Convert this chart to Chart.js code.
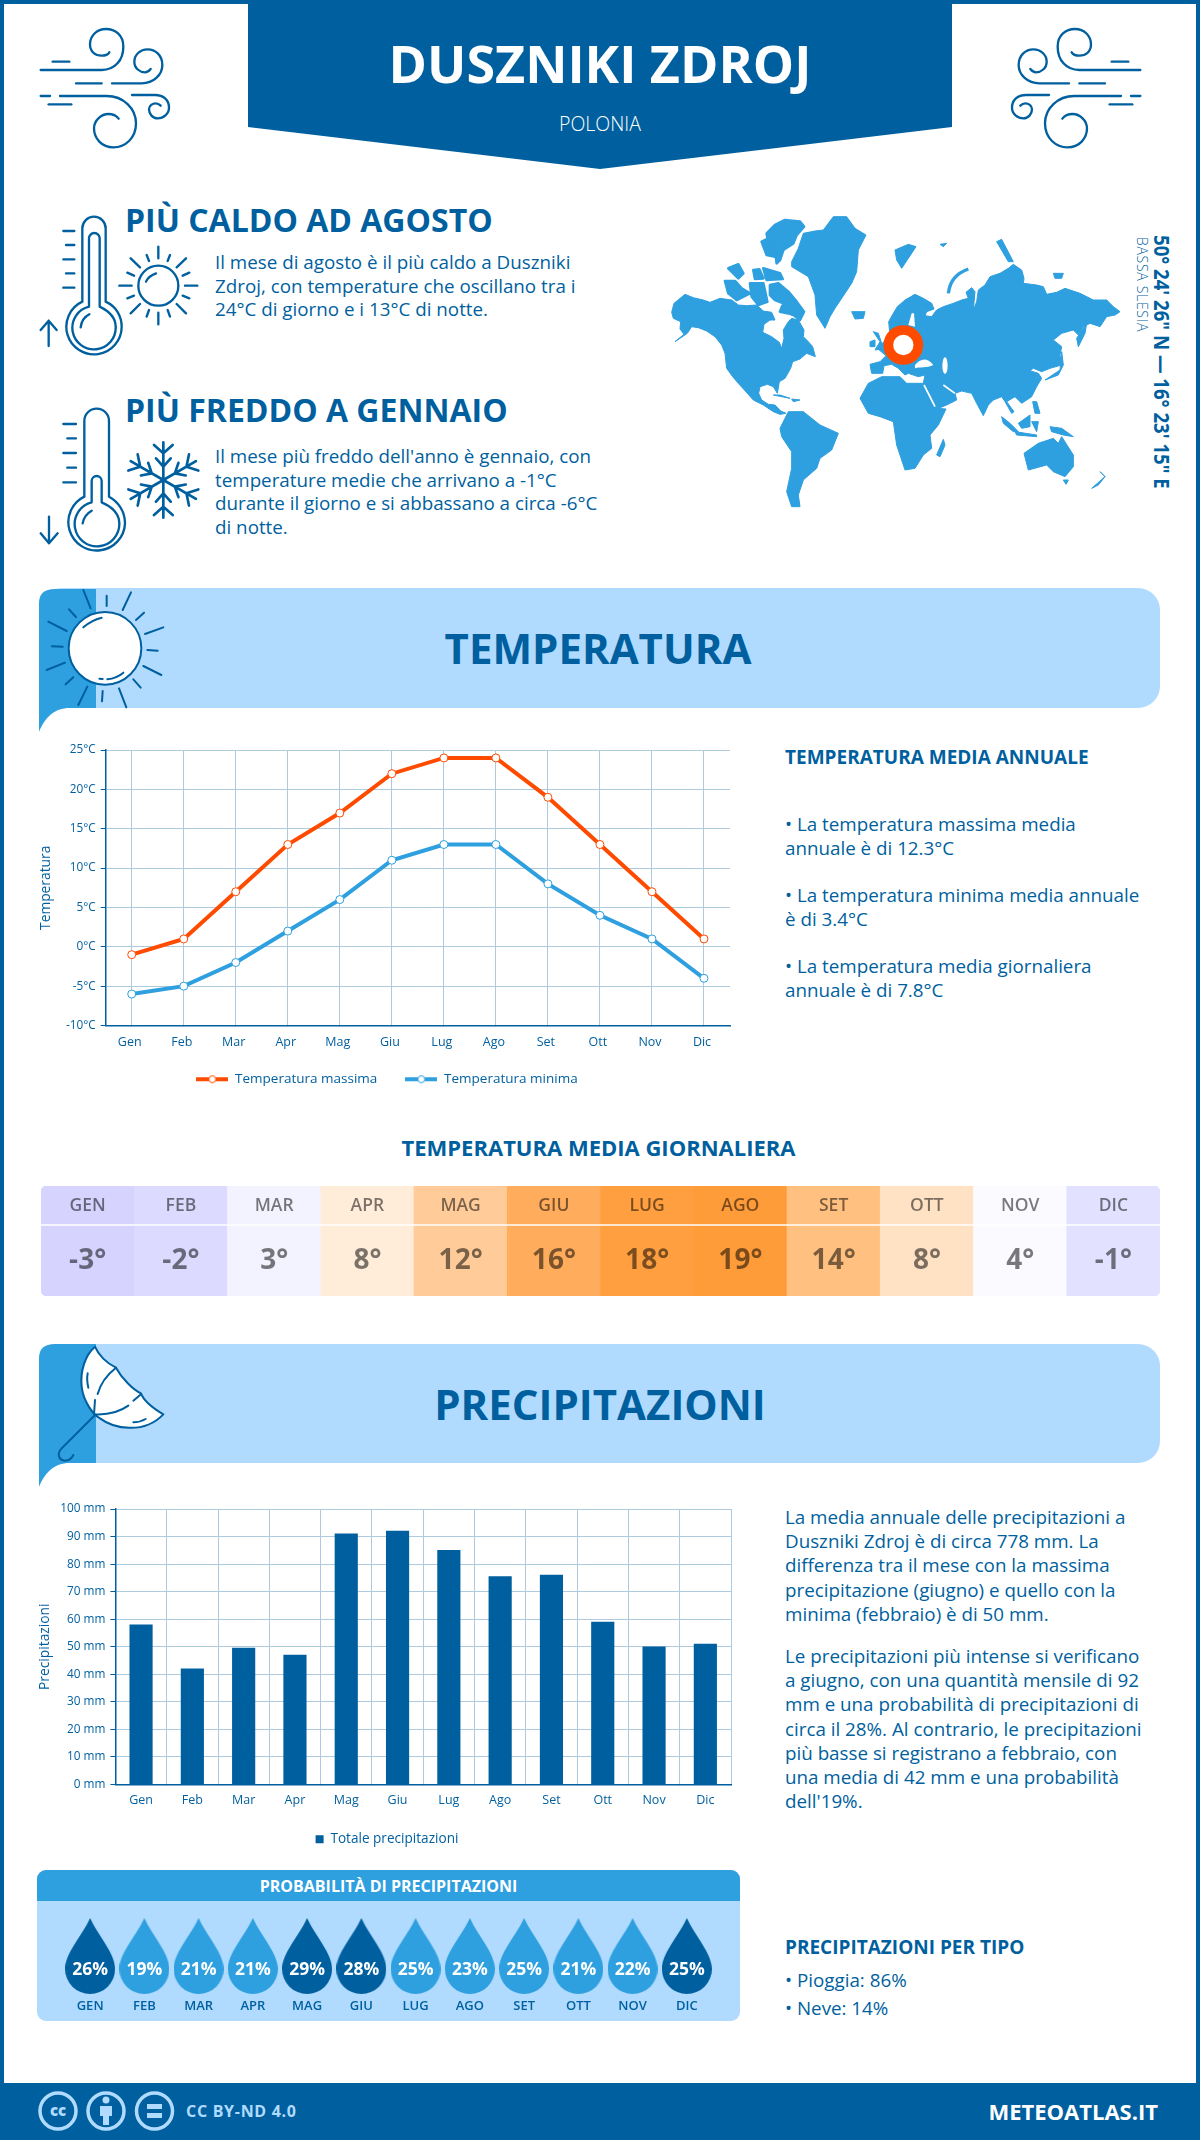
<!DOCTYPE html>
<html lang="it">
<head>
<meta charset="UTF-8">
<title>Dusznik Zdroj</title>
<script src="https://cdn.jsdelivr.net/npm/chart.js"></script>
<style>
  html, body { margin: 0; padding: 0; background: #fff; }
  #page { position: relative; width: 1200px; height: 2140px; overflow: hidden; font-family: "Open Sans", sans-serif; color: #005f9e; }
  #frame { position: absolute; left: 0; top: 0; width: 1192px; height: 2132px; border: 4px solid #005f9e; }
  .t { position: absolute; white-space: nowrap; }
  .head { font-weight: 700; font-size: 32px; line-height: 40px; }
  .body { font-size: 18.8px; line-height: 23.7px; }
  .sub { font-weight: 700; font-size: 19px; line-height: 26px; }
  .band { position: absolute; left: 40px; width: 1120px; height: 120px; background: #b0dbff; border-radius: 22px; }
  .bandtitle { position: absolute; left: 0; width: 1200px; text-align: center; font-weight: 700; font-size: 42px; line-height: 50px; }
  svg { position: absolute; overflow: visible; }
  canvas { position: absolute; }
  .ln { fill: none; stroke: #005f9e; stroke-linecap: round; stroke-linejoin: round; }
</style>
</head>
<body>
<div id="page">
  <div id="frame"></div>

  <!-- intestazione -->
  <svg style="left:0;top:0" width="1200" height="180"><path d="M248 0H952V127L600 169L248 127Z" fill="#005f9e"/></svg>
  <div class="t" style="left:0;width:1200px;text-align:center;top:28px;font-size:52px;line-height:70px;font-weight:700;color:#fff">DUSZNIKI ZDROJ</div>
  <div class="t" style="left:0;width:1200px;text-align:center;top:110px;font-size:19.5px;line-height:28px;color:#fff;font-weight:300">POLONIA</div>

  <svg style="left:20px;top:10px" width="200" height="150" viewBox="0 0 600 450">
    <g id="wind" class="ln" stroke-width="7">
      <path class="ln" d="M62,180 L245,180 C285,180 310,150 310,110 C310,75 285,57 258,57 C230,57 210,78 210,103 C210,125 225,137 245,137 C255,137 265,132 268,127"/>
      <path class="ln" d="M98,155 L148,155"/>
      <path class="ln" d="M168,220 L245,220 M276,220 L365,220 C400,220 427,195 427,165 C427,135 405,118 383,118 C360,118 343,135 343,155 C343,175 360,187 375,187 C382,187 388,182 392,177"/>
      <path class="ln" d="M62,258 L90,258 M120,258 L260,258 C310,258 348,295 348,340 C348,385 315,412 280,412 C245,412 222,385 222,355 C222,330 245,312 265,312 C280,312 290,318 296,326"/>
      <path class="ln" d="M86,283 L154,283"/>
      <path class="ln" d="M336,255 L405,255 C430,255 447,270 447,293 C447,312 430,325 413,325 C398,325 387,312 387,298 C387,287 398,280 407,280 C413,280 418,283 422,287"/>
    </g>
  </svg>
  <svg style="left:961px;top:10px;transform:scaleX(-1)" width="200" height="150" viewBox="0 0 600 450"><use href="#wind"/></svg>

  <!-- più caldo -->
  <svg style="left:20px;top:200px" width="200" height="170" viewBox="0 0 600 510">
    <g class="ln" stroke-width="7">
      <path class="ln" d="M187,305 L187,85 A35,35 0 0 1 257,85 L257,305 C290,320 305,350 305,380 A83,83 0 1 1 187,305 Z"/>
      <path class="ln" d="M207,320 L207,115 A16,16 0 0 1 239,115 L239,320 C270,335 287,355 287,380 A65,65 0 1 1 207,320 Z"/>
      <path class="ln" d="M182,382 Q185,355 208,343"/>
      <path class="ln" d="M130,93H163 M138,135H163 M130,178H163 M138,220H163 M130,263H163"/>
      <path class="ln" d="M86,438 L86,362 M62,390 L86,362 L110,390"/>
      <circle class="ln" cx="415" cy="257" r="60"/>
      <path class="ln" d="M378,245 Q385,228 408,220"/>
      <path class="ln" d="M415,140V175 M380,165L387,183 M450,165L443,183 M332,175L360,202 M498,175L470,202 M322,218L342,227 M508,218L488,227 M298,257H335 M495,257H532 M322,295L342,287 M508,295L488,287 M332,340L360,312 M498,340L470,312 M380,350L387,330 M450,350L443,330 M415,338V373"/>
    </g>
  </svg>
  <div class="t head" style="left:125px;top:200px">PIÙ CALDO AD AGOSTO</div>
  <div class="t body" style="left:215px;top:251px">Il mese di agosto è il più caldo a Duszniki<br>Zdroj, con temperature che oscillano tra i<br>24°C di giorno e i 13°C di notte.</div>

  <!-- più freddo -->
  <svg style="left:20px;top:395px" width="200" height="170" viewBox="0 0 600 510">
    <g class="ln" stroke-width="7">
      <path class="ln" d="M193,305 L193,78 A37,37 0 0 1 267,78 L267,305 C295,320 315,350 315,385 A85,85 0 1 1 193,305 Z"/>
      <path class="ln" d="M215,322 L215,258 A15,15 0 0 1 245,258 L245,322 C275,335 298,355 298,385 A67,67 0 1 1 215,322 Z"/>
      <path class="ln" d="M188,385 Q192,360 215,347"/>
      <path class="ln" d="M130,87H168 M142,130H168 M130,174H168 M142,218H168 M130,262H168"/>
      <path class="ln" d="M87,365 L87,445 M62,415 L87,445 L113,415"/>
      <g id="arm"><path class="ln" stroke-width="8" d="M430,255V142 M430,175L402,150 M430,175L458,150 M430,215L408,190 M430,215L452,190"/></g>
      <use href="#arm" transform="rotate(60 430 255)"/>
      <use href="#arm" transform="rotate(120 430 255)"/>
      <use href="#arm" transform="rotate(180 430 255)"/>
      <use href="#arm" transform="rotate(240 430 255)"/>
      <use href="#arm" transform="rotate(300 430 255)"/>
    </g>
  </svg>
  <div class="t head" style="left:125px;top:390px">PIÙ FREDDO A GENNAIO</div>
  <div class="t body" style="left:215px;top:445px">Il mese più freddo dell'anno è gennaio, con<br>temperature medie che arrivano a -1°C<br>durante il giorno e si abbassano a circa -6°C<br>di notte.</div>

  <!-- mappa -->
  <svg style="left:660px;top:205px" width="520" height="310" viewBox="0 0 1560 930">
    <g fill="#2e9fdf" stroke="#2e9fdf" stroke-width="3" stroke-linejoin="round">
      <path d="M35,322 L42,295 L75,268 L100,278 L130,285 L150,292 L180,280 L215,285 L235,300 L260,302 L290,300 L310,318 L335,322 L345,345 L330,345 L312,358 L308,382 L335,395 L358,412 L365,430 L372,400 L370,375 L385,350 L395,340 L415,345 L432,375 L430,395 L445,410 L458,425 L466,455 L440,445 L420,462 L398,470 L392,490 L375,520 L358,530 L352,565 L340,545 L322,538 L300,545 L296,565 L305,585 L325,598 L345,600 L362,618 L378,625 L360,628 L340,620 L310,600 L280,585 L262,565 L235,535 L218,515 L200,490 L195,445 L185,420 L165,395 L140,378 L115,368 L95,365 L82,385 L45,410 L72,388 L60,372 L62,350 L40,340 Z"/>
      <path d="M395,170 L415,130 L430,85 L465,78 L490,75 L520,35 L560,35 L585,70 L618,90 L595,135 L590,200 L575,235 L555,265 L525,310 L510,335 L495,370 L470,330 L465,270 L445,215 L395,185 Z"/>
      <path stroke-width="8" d="M320,85 L345,60 L375,45 L420,50 L432,65 L410,90 L400,115 L370,135 L360,165 L350,175 L345,130 L325,115 Z"/>
      <path stroke-width="8" d="M305,110 L325,100 L350,125 L345,155 L320,150 Z M205,190 L235,178 L250,205 L235,220 Z M195,228 L225,228 L245,250 L270,265 L230,285 L205,265 Z M280,195 L298,193 L310,220 L285,222 Z M310,190 L360,205 L368,222 L320,225 Z"/>
      <path stroke-width="8" d="M330,240 L355,235 L385,260 L410,290 L432,320 L420,345 L400,330 L385,325 L360,320 L370,295 L345,285 L330,270 Z M270,235 L310,235 L322,290 L295,300 L275,275 Z"/>
      <path d="M360,670 L385,620 L430,620 L480,660 L535,685 L515,735 L480,760 L470,790 L430,825 L415,870 L420,905 L395,905 L380,860 L395,790 L395,740 L365,695 Z"/>
      <path d="M600,580 L625,535 L665,515 L720,515 L740,535 L790,535 L815,590 L830,610 L858,612 L835,660 L810,690 L815,730 L790,750 L765,790 L735,795 L710,720 L700,650 L660,635 L625,625 Z"/>
      <path d="M830,750 L850,703 L855,720 L840,755 Z"/>
      <path d="M688,372 L686,350 L700,325 L712,305 L735,285 L765,268 L790,280 L815,295 L822,312 L800,320 L795,332 L815,335 L830,315 L850,305 L880,295 L905,285 L925,280 L918,262 L935,248 L945,260 L940,315 L950,290 L955,255 L975,240 L990,215 L1020,205 L1045,190 L1060,178 L1085,195 L1092,220 L1090,235 L1130,240 L1150,245 L1160,268 L1190,262 L1215,250 L1260,265 L1300,285 L1340,285 L1360,305 L1380,320 L1365,330 L1340,335 L1320,365 L1290,355 L1270,365 L1255,390 L1240,375 L1205,385 L1180,405 L1205,425 L1200,450 L1205,480 L1170,490 L1145,500 L1120,490 L1110,497 L1135,505 L1145,520 L1130,545 L1115,575 L1085,595 L1065,575 L1040,590 L1062,620 L1055,625 L1035,590 L1025,575 L1000,585 L985,600 L970,632 L950,595 L935,565 L905,558 L885,565 L890,585 L860,600 L830,612 L810,570 L790,535 L795,510 L775,515 L745,505 L735,510 L715,490 L695,478 L672,482 L668,505 L635,505 L630,478 L660,470 L678,452 L652,430 L690,392 Z"/>
      <path d="M640,380 L655,385 L670,430 L645,435 L660,410 Z M630,410 L645,405 L645,425 L630,425 Z M575,320 L615,320 L610,340 L585,342 Z"/>
      <path d="M705,135 L745,118 L768,125 L745,160 L725,190 L710,165 Z M840,118 L860,115 L850,125 Z M1010,110 L1025,103 L1060,170 L1045,170 Z M1180,205 L1210,205 L1205,220 L1185,220 Z"/>
      <path d="M1255,425 L1250,400 L1280,355 L1275,385 Z M1155,525 L1200,495 L1205,440 L1210,480 L1195,510 Z"/>
      <path d="M1118,590 L1130,590 L1140,625 L1125,625 Z M1075,655 L1110,630 L1110,665 L1085,670 Z M1025,635 L1050,655 L1075,680 L1060,680 L1030,655 Z M1065,680 L1130,690 L1130,695 L1070,690 Z M1115,650 L1135,650 L1130,680 Z M1170,665 L1205,670 L1240,695 L1210,690 L1175,680 Z"/>
      <path d="M1092,745 L1135,715 L1180,700 L1195,715 L1205,695 L1240,750 L1240,785 L1215,815 L1180,800 L1160,780 L1105,795 Z M1210,825 L1225,825 L1218,838 Z M1295,850 L1335,815 L1320,800 L1335,815 L1315,840 Z"/>
      <path d="M340,570 L390,580 L360,570 Z M395,582 L420,585 L400,590 Z"/>
    </g>
    <path d="M865,265 C870,225 890,205 925,192" fill="none" stroke="#2e9fdf" stroke-width="10"/>
    <path d="M745,360 L755,325 L762,325 L765,365 Z" fill="#fff"/>
    <path d="M765,480 C780,462 800,455 820,480 C800,490 780,485 765,490 Z" fill="#fff"/>
    <path d="M792,540 L825,605 M850,540 L885,565" fill="none" stroke="#fff" stroke-width="5"/>
    <ellipse cx="855" cy="482" rx="8" ry="25" fill="#fff"/>
    <circle cx="730" cy="420" r="45" fill="#fff" stroke="#ff4b00" stroke-width="29"/>
  </svg>
  <div class="t" style="left:1161px;top:235px;font-size:18.6px;line-height:26px;font-weight:700;transform-origin:0 0;transform:translate(15.5px,0) rotate(90deg) scale(1,1.13)">50° 24' 26" N — 16° 23' 15" E</div>
  <div class="t" style="left:1142px;top:237px;font-size:14px;line-height:18px;font-weight:300;letter-spacing:.7px;transform-origin:0 0;transform:translate(9px,0) rotate(90deg)">BASSA SLESIA</div>

  <!-- temperatura -->
  <div class="band" style="top:588px"></div>
  <svg style="left:30px;top:580px" width="200" height="160" viewBox="0 0 600 480">
    <path d="M27,384 L27,70 Q27,27 75,27 L198,27 L198,384 L120,384 C70,384 45,415 27,455 Z" fill="#2e9fdf"/>
    <circle cx="225" cy="205" r="109" fill="#fff" stroke="#005f9e" stroke-width="6"/>
    <path class="ln" stroke-width="6" d="M160,30L182,85 M230,47V78 M303,37L278,90 M342,98L318,120 M400,142L345,162 M352,210L383,212 M340,258L394,285 M310,298L332,323 M267,325L289,382 M218,333L216,364 M172,320L145,375 M130,292L107,313 M105,248L50,270 M98,200L66,199 M110,153L55,125 M138,111L117,88"/>
    <path class="ln" stroke-width="6" d="M160,142 Q185,120 215,113 M232,298 Q260,295 280,278 M208,296L218,297"/>
  </svg>
  <div class="bandtitle" style="top:623px;left:-2px">TEMPERATURA</div>

  <canvas id="tempChart" width="734" height="358" style="left:20px;top:738px"></canvas>

  <div class="t sub" style="left:785px;top:744px">TEMPERATURA MEDIA ANNUALE</div>
  <div class="t body" style="left:785px;top:813px">• La temperatura massima media<br>annuale è di 12.3°C</div>
  <div class="t body" style="left:785px;top:884px">• La temperatura minima media annuale<br>è di 3.4°C</div>
  <div class="t body" style="left:785px;top:955px">• La temperatura media giornaliera<br>annuale è di 7.8°C</div>

  <div class="t" style="left:0;width:1197px;text-align:center;top:1132px;font-size:22px;line-height:30px;font-weight:700">TEMPERATURA MEDIA GIORNALIERA</div>
  <canvas id="heatChart" width="1119" height="110" style="left:41px;top:1186px"></canvas>

  <!-- precipitazioni -->
  <div class="band" style="top:1344px;height:119px"></div>
  <svg style="left:30px;top:1335px" width="200" height="160" viewBox="0 0 600 480">
    <path d="M27,384 L27,70 Q27,27 75,27 L198,27 L198,384 L120,384 C70,384 45,415 27,455 Z" fill="#2e9fdf"/>
    <path d="M195,35 C165,60 150,110 155,155 C160,200 190,240 210,250 C250,280 340,300 400,238 C370,220 340,195 333,175 C310,165 275,130 258,98 C230,85 205,60 195,35 Z" fill="#fff" stroke="#005f9e" stroke-width="6" stroke-linejoin="round"/>
    <path class="ln" stroke-width="6" d="M195,238 C240,240 270,230 295,212 M310,197L333,178 M258,98 C230,120 210,150 203,177 M195,195L192,238 M173,115 C170,130 172,145 175,158 M310,262 Q330,262 347,252 M195,240 L95,340 C80,355 85,375 105,377 C115,377 125,370 130,360"/>
  </svg>
  <div class="bandtitle" style="top:1379px">PRECIPITAZIONI</div>

  <canvas id="rainChart" width="734" height="359" style="left:20px;top:1497px"></canvas>

  <div class="t body" style="left:785px;top:1505px;line-height:24.2px">La media annuale delle precipitazioni a<br>Duszniki Zdroj è di circa 778 mm. La<br>differenza tra il mese con la massima<br>precipitazione (giugno) e quello con la<br>minima (febbraio) è di 50 mm.</div>
  <div class="t body" style="left:785px;top:1644px;line-height:24.2px">Le precipitazioni più intense si verificano<br>a giugno, con una quantità mensile di 92<br>mm e una probabilità di precipitazioni di<br>circa il 28%. Al contrario, le precipitazioni<br>più basse si registrano a febbraio, con<br>una media di 42 mm e una probabilità<br>dell'19%.</div>

  <div style="position:absolute;left:37px;top:1870px;width:703px;height:151px;background:#b0dbff;border-radius:9px;overflow:hidden">
    <div style="height:31px;background:#2e9fdf;color:#fff;text-align:center;font-weight:700;font-size:16px;line-height:33px">PROBABILITÀ DI PRECIPITAZIONI</div>
  </div>
  <canvas id="dropChart" width="703" height="120" style="left:37px;top:1901px"></canvas>

  <div class="t sub" style="left:785px;top:1934px">PRECIPITAZIONI PER TIPO</div>
  <div class="t body" style="left:785px;top:1969px">• Pioggia: 86%</div>
  <div class="t body" style="left:785px;top:1997px">• Neve: 14%</div>

  <!-- piede -->
  <div style="position:absolute;left:0;top:2083px;width:1200px;height:57px;background:#005f9e"></div>
  <svg style="left:0;top:2083px" width="300" height="57">
    <g fill="none" stroke="#b0dbff" stroke-width="3.5">
      <circle cx="58" cy="28" r="18"/><circle cx="106" cy="28" r="18"/><circle cx="154.5" cy="28" r="18"/>
    </g>
    <g fill="#b0dbff">
      <circle cx="106" cy="17" r="3.5"/><path d="M100,23H112V33H109V42H103V33H100Z"/>
      <rect x="147" y="21" width="15" height="5"/><rect x="147" y="30" width="15" height="5"/>
    </g>
    <text x="58" y="33" text-anchor="middle" font-family="Open Sans" font-weight="800" font-size="15" fill="#b0dbff">cc</text>
  </svg>
  <div class="t" style="left:186px;top:2098px;font-size:16px;line-height:26px;font-weight:700;color:#b0dbff;letter-spacing:.7px">CC BY-ND 4.0</div>
  <div class="t" style="right:42px;top:2096px;font-size:22px;line-height:30px;font-weight:700;color:#fff">METEOATLAS.IT</div>
</div>

<script>
// dati
const months = ['Gen', 'Feb', 'Mar', 'Apr', 'Mag', 'Giu', 'Lug', 'Ago', 'Set', 'Ott', 'Nov', 'Dic'];
const monthsUpper = ['GEN', 'FEB', 'MAR', 'APR', 'MAG', 'GIU', 'LUG', 'AGO', 'SET', 'OTT', 'NOV', 'DIC'];
const tempMax = [-1, 1, 7, 13, 17, 22, 24, 24, 19, 13, 7, 1];
const tempMin = [-6, -5, -2, 2, 6, 11, 13, 13, 8, 4, 1, -4];
const dailyMean = [-3, -2, 3, 8, 12, 16, 18, 19, 14, 8, 4, -1];
const rainfall = [58, 42, 49.5, 47, 91, 92, 85, 75.5, 76, 59, 50, 51];
const rainChance = [26, 19, 21, 21, 29, 28, 25, 23, 25, 21, 22, 25];

const heatColors = ['#d6d4ff', '#dcdbff', '#f3f3ff', '#ffecd9', '#ffcc99', '#ffad5c', '#ff9f40', '#ff9c3a', '#ffc080', '#ffe2c4', '#fbfaff', '#e2e1ff'];
const dropColors = ['#005f9e', '#2e9fdf', '#2e9fdf', '#2e9fdf', '#005f9e', '#005f9e', '#2e9fdf', '#2e9fdf', '#2e9fdf', '#2e9fdf', '#2e9fdf', '#005f9e'];

const BLUE = '#005f9e', GRID = '#aecadf', RED = '#ff4b00', SKY = '#2e9fdf';
const FONT = '"Open Sans", sans-serif';
Chart.defaults.font.family = FONT;
Chart.defaults.color = BLUE;
Chart.defaults.animation = false;
Chart.defaults.responsive = false;

// simbolo della legenda: linea con cerchietto
function legendMark(color) {
    const c = document.createElement('canvas');
    c.width = 32; c.height = 12;
    const g = c.getContext('2d');
    g.fillStyle = color;
    g.fillRect(0, 4, 32, 4);
    g.beginPath();
    g.arc(16, 6, 3.5, 0, Math.PI * 2);
    g.fillStyle = '#fff';
    g.fill();
    g.strokeStyle = color;
    g.lineWidth = 1;
    g.stroke();
    return c;
}

// la legenda si centra sullo spazio tra i padding, per questo l'asse parte piu' a destra e il titolo ha padding negativo
function yAxis(width, step, min, max, suffix, title) {
    return {
        min: min, max: max,
        afterFit: s => { s.width = width; },
        ticks: { stepSize: step, font: { size: 11.8 }, padding: 5, callback: v => v + suffix },
        border: { color: BLUE, width: 1.5 },
        grid: { color: GRID, lineWidth: 1, tickColor: BLUE, tickLength: 5 },
        title: { display: true, text: title, font: { size: 13.8 }, padding: { top: -6.6, bottom: 0 } }
    };
}

// l'asse x e' basso per far posto alla legenda: allargo l'area in cui i tick non vengono tagliati
const keepTickLabels = {
    id: 'keepTickLabels',
    afterLayout(chart) { chart.scales.x.bottom = chart.height; }
};

new Chart(document.getElementById('tempChart'), {
    type: 'line',
    data: {
        labels: months,
        datasets: [
            { label: 'Temperatura massima', data: tempMax, borderColor: RED, borderWidth: 4, pointRadius: 4, pointBorderWidth: 1, pointBackgroundColor: '#fff', pointBorderColor: RED, tension: 0, pointStyle: 'circle' },
            { label: 'Temperatura minima', data: tempMin, borderColor: SKY, borderWidth: 4, pointRadius: 4, pointBorderWidth: 1, pointBackgroundColor: '#fff', pointBorderColor: SKY, tension: 0, pointStyle: 'circle' }
        ]
    },
    plugins: [keepTickLabels],
    options: {
        layout: { padding: { top: 10, right: 24, left: 24 } },
        scales: {
            x: {
                offset: true,
                afterFit: s => { s.height = 19; },
                ticks: { font: { size: 12.5 }, padding: 9, labelOffset: -2 },
                border: { color: BLUE, width: 1.5 },
                grid: { offset: false, color: GRID, lineWidth: 1, tickLength: 0 }
            },
            y: yAxis(61.7, 5, -10, 25, '°C', 'Temperatura')
        },
        plugins: {
            legend: {
                position: 'bottom',
                labels: {
                    usePointStyle: true, pointStyleWidth: 32, padding: 28, font: { size: 13.5 },
                    generateLabels: chart => chart.data.datasets.map((d, i) => ({
                        text: d.label, pointStyle: legendMark(d.borderColor), datasetIndex: i, fontColor: BLUE, lineWidth: 0
                    }))
                }
            }
        }
    }
});

new Chart(document.getElementById('rainChart'), {
    type: 'bar',
    data: {
        labels: months,
        datasets: [{ label: 'Totale precipitazioni', data: rainfall, backgroundColor: BLUE, barThickness: 22.5 }]
    },
    options: {
        layout: { padding: { top: 10, right: 23, left: 23 } },
        scales: {
            x: {
                afterFit: s => { s.height = 38; },
                ticks: { font: { size: 12.5 }, padding: 9 },
                border: { color: BLUE, width: 1.5 },
                grid: { color: c => c.index === 12 ? 'transparent' : GRID, lineWidth: 1, tickLength: 0 }
            },
            y: yAxis(72.4, 10, 0, 100, ' mm', 'Precipitazioni')
        },
        plugins: {
            legend: { position: 'bottom', labels: { boxWidth: 8, boxHeight: 8, padding: 10, font: { size: 13.6 } } }
        }
    }
});

// testo delle celle della tabella
const heatLabels = {
    id: 'heatLabels',
    afterDatasetsDraw(chart) {
        const { ctx, scales } = chart;
        ctx.save();
        ctx.strokeStyle = '#fff';
        ctx.lineWidth = 1.5;
        const sep = scales.y.getPixelForValue(0.645);
        ctx.beginPath(); ctx.moveTo(0, sep); ctx.lineTo(chart.width, sep); ctx.stroke();
        ctx.textAlign = 'center';
        ctx.textBaseline = 'middle';
        ctx.fillStyle = 'rgba(0,0,0,0.52)';
        months.forEach((m, i) => {
            const x = scales.x.getPixelForValue(i);
            ctx.font = '600 17.5px ' + FONT;
            ctx.fillText(monthsUpper[i], x, scales.y.getPixelForValue(0.82));
            ctx.font = '700 28px ' + FONT;
            ctx.fillText(dailyMean[i] + '°', x, scales.y.getPixelForValue(0.32));
        });
        ctx.restore();
    }
};

new Chart(document.getElementById('heatChart'), {
    type: 'bar',
    data: {
        labels: months,
        datasets: [{
            data: months.map(() => 1),
            backgroundColor: heatColors,
            barPercentage: 1, categoryPercentage: 1,
            borderSkipped: false,
            borderRadius: c => c.dataIndex === 0 ? { topLeft: 6, bottomLeft: 6 } : c.dataIndex === 11 ? { topRight: 6, bottomRight: 6 } : 0
        }]
    },
    plugins: [heatLabels],
    options: {
        scales: { x: { display: false }, y: { display: false, min: 0, max: 1 } },
        plugins: { legend: { display: false }, tooltip: { enabled: false } }
    }
});

// goccia disegnata una volta per colore
function dropShape(color) {
    const c = document.createElement('canvas');
    c.width = 50; c.height = 76;
    const g = c.getContext('2d');
    g.fillStyle = color;
    g.beginPath();
    g.moveTo(25, 0);
    g.bezierCurveTo(33, 18, 50, 35, 50, 51);
    g.arc(25, 51, 25, 0, Math.PI);
    g.bezierCurveTo(0, 35, 17, 18, 25, 0);
    g.fill();
    return c;
}

const dropLabels = {
    id: 'dropLabels',
    afterDatasetsDraw(chart) {
        const { ctx, scales } = chart;
        ctx.save();
        ctx.textAlign = 'center';
        ctx.textBaseline = 'middle';
        ctx.fillStyle = '#fff';
        ctx.font = '700 17.5px ' + FONT;
        rainChance.forEach((v, i) => {
            ctx.fillText(v + '%', scales.x.getPixelForValue(i), scales.y.getPixelForValue(0.5) + 14);
        });
        ctx.restore();
    }
};

new Chart(document.getElementById('dropChart'), {
    type: 'line',
    data: {
        labels: monthsUpper,
        datasets: [{
            data: rainChance.map(() => 0.5),
            showLine: false,
            clip: false,
            pointRadius: 25,
            pointStyle: dropColors.map(dropShape)
        }]
    },
    plugins: [dropLabels],
    options: {
        layout: { padding: { top: 10 } },
        scales: {
            x: {
                offset: true,
                afterFit: s => { s.height = 36; },
                ticks: { font: { size: 13, weight: '600' }, padding: 5 },
                border: { display: false },
                grid: { display: false }
            },
            y: { display: false, min: 0, max: 1 }
        },
        plugins: { legend: { display: false }, tooltip: { enabled: false } }
    }
});
</script>
</body>
</html>
